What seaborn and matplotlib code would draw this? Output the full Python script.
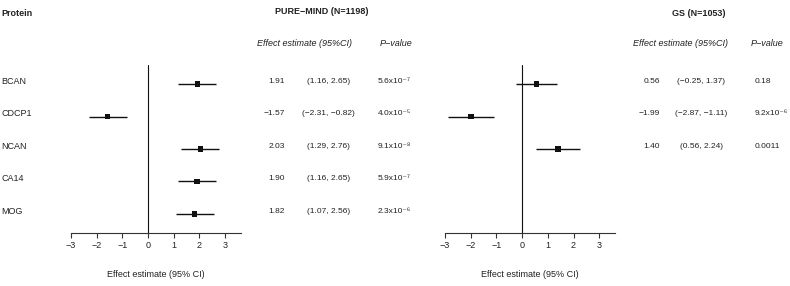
import matplotlib
matplotlib.use("Agg")
import matplotlib.pyplot as plt
import matplotlib.transforms as mtransforms
import seaborn as sns
import pandas as pd

# Dati
proteins = ['BCAN', 'CDCP1', 'NCAN', 'CA14', 'MOG']

pm_est = [1.91, -1.57, 2.03, 1.90, 1.82]
pm_lo = [1.16, -2.31, 1.29, 1.16, 1.07]
pm_hi = [2.65, -0.82, 2.76, 2.65, 2.56]
pm_p = ['5.6x10⁻⁷', '4.0x10⁻⁵', '9.1x10⁻⁸', '5.9x10⁻⁷', '2.3x10⁻⁶']

gs_proteins = ['BCAN', 'CDCP1', 'NCAN']
gs_est = [0.56, -1.99, 1.40]
gs_lo = [-0.25, -2.87, 0.56]
gs_hi = [1.37, -1.11, 2.24]
gs_p = ['0.18', '9.2x10⁻⁶', '0.0011']

xticks = [-3, -2, -1, 0, 1, 2, 3]

sns.set_style('white')
plt.rcParams['font.family'] = ['Liberation Sans', 'DejaVu Sans']

TXT = '#222222'
FS = 6.5     # etichette e intestazioni
FN = 6.0     # numeri
W, H = 790, 286


def fx(px):
    return px / W


def fy(px):
    return 1 - px / H


def fmt(v):
    return f'{v:.2f}'.replace('-', '\u2212')


fig = plt.figure(figsize=(7.9, 2.86), dpi=100)

unit = 25.7
ax_l = fig.add_axes([fx(71), fy(233), 6.6 * unit / W, (233 - 65) / H])
ax_r = fig.add_axes([fx(445), fy(233), 6.6 * unit / W, (233 - 65) / H])


def forest(ax, names, est, lo, hi):
    rows = [proteins.index(n) for n in names]
    df = pd.DataFrame({'protein': names, 'row': rows, 'est': est, 'lo': lo, 'hi': hi})
    ax.hlines(df['row'], df['lo'], df['hi'], color='#111111', lw=1.0, zorder=2)
    sns.scatterplot(data=df, x='est', y='row', marker='s', color='#111111',
                    s=14, edgecolor='none', ax=ax, zorder=3, legend=False)
    ax.axvline(0, color='#111111', lw=0.8, zorder=1)
    ax.set_xlim(-3, 3.6)
    ax.set_ylim(4.585, -0.585)
    ax.set_xticks(xticks)
    ax.set_xticklabels([str(t).replace('-', '\u2212') for t in xticks])
    ax.set_yticks([])
    for s in ['top', 'right', 'left']:
        ax.spines[s].set_visible(False)
    ax.spines['bottom'].set_color('#333333')
    ax.spines['bottom'].set_linewidth(0.8)
    ax.tick_params(axis='x', direction='out', length=3.5, width=0.8, color='#333333',
                   pad=2, labelsize=FS, labelcolor=TXT, bottom=True)
    ax.set_xlabel('Effect estimate (95% CI)', fontsize=FS, color=TXT, labelpad=15)
    ax.set_ylabel('')
    ax.set_facecolor('none')


forest(ax_l, proteins, pm_est, pm_lo, pm_hi)
forest(ax_r, gs_proteins, gs_est, gs_lo, gs_hi)

# Testi per riga
off = -0.09
tl = mtransforms.blended_transform_factory(fig.transFigure, ax_l.transData)
for i, name in enumerate(proteins):
    fig.text(fx(1), i + off, name, transform=tl, ha='left', va='center', fontsize=FS, color=TXT)
    fig.text(fx(285), i + off, fmt(pm_est[i]), transform=tl, ha='right', va='center', fontsize=FN, color=TXT)
    fig.text(fx(328.5), i + off, f'({fmt(pm_lo[i])}, {fmt(pm_hi[i])})', transform=tl,
             ha='center', va='center', fontsize=FN, color=TXT)
    fig.text(fx(378), i + off, pm_p[i], transform=tl, ha='left', va='center', fontsize=FN, color=TXT)

tr = mtransforms.blended_transform_factory(fig.transFigure, ax_r.transData)
for i, name in enumerate(gs_proteins):
    r = proteins.index(name)
    fig.text(fx(660), r + off, fmt(gs_est[i]), transform=tr, ha='right', va='center', fontsize=FN, color=TXT)
    fig.text(fx(701), r + off, f'({fmt(gs_lo[i])}, {fmt(gs_hi[i])})', transform=tr,
             ha='center', va='center', fontsize=FN, color=TXT)
    fig.text(fx(755), r + off, gs_p[i], transform=tr, ha='left', va='center', fontsize=FN, color=TXT)

# Intestazioni
fig.text(fx(1), fy(14), 'Protein', ha='left', va='center', fontsize=FS, fontweight='bold', color=TXT)
fig.text(fx(322), fy(12), 'PURE\u2212MIND (N=1198)', ha='center', va='center', fontsize=FS,
         fontweight='bold', color=TXT)
fig.text(fx(699), fy(14), 'GS (N=1053)', ha='center', va='center', fontsize=FS,
         fontweight='bold', color=TXT)
for cx_eff, cx_p in [(304.5, 396), (680.5, 767)]:
    fig.text(fx(cx_eff), fy(43), 'Effect estimate (95%CI)', ha='center', va='center',
             fontsize=FS, style='italic', color=TXT)
    fig.text(fx(cx_p), fy(43), 'P\u2212value', ha='center', va='center',
             fontsize=FS, style='italic', color=TXT)

fig.savefig('out.png', dpi=100, facecolor='white')
